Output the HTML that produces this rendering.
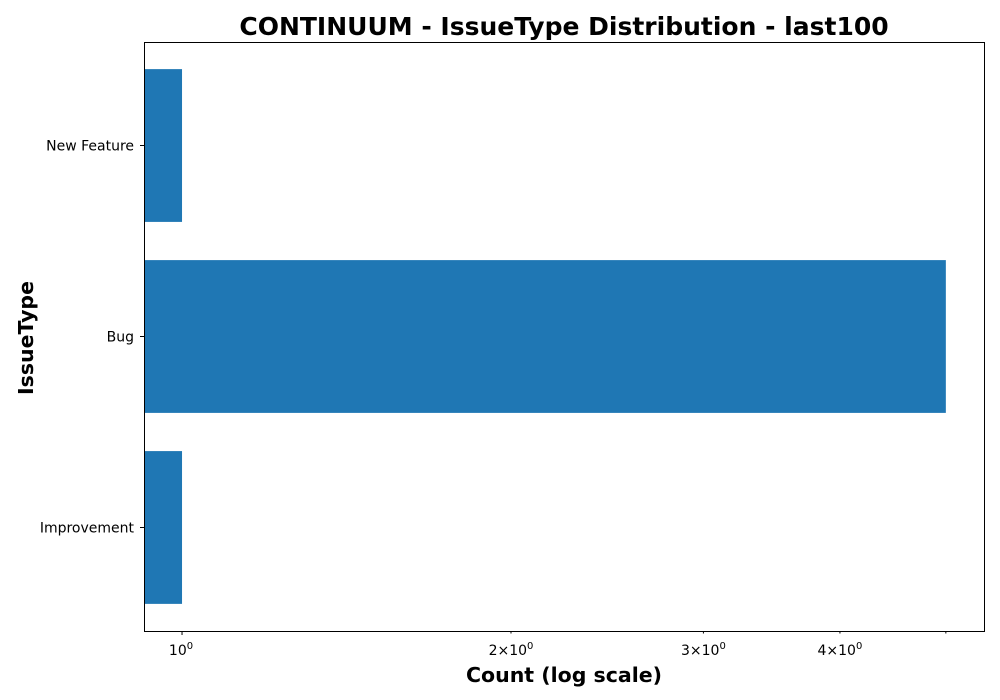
<!DOCTYPE html>
<html><head><meta charset="utf-8"><style>body{margin:0;background:#fff}svg{display:block;font-family:"DejaVu Sans","Liberation Sans",sans-serif}</style></head>
<body>
<svg id="chart" width="1000" height="700">
<rect x="0" y="0" width="1000" height="700" fill="#fff"/>
<text x="564" y="35" text-anchor="middle" font-size="25" font-weight="bold">CONTINUUM - IssueType Distribution - last100</text>
<text x="564" y="682" text-anchor="middle" font-size="20.5" font-weight="bold">Count (log scale)</text>
<text transform="translate(33,338) rotate(-90)" text-anchor="middle" font-size="20.5" font-weight="bold">IssueType</text>
<g id="plot"></g>
<rect x="144.5" y="42.5" width="840" height="589" fill="none" stroke="#000" stroke-width="1"/>
</svg>
<script>
const categories = ["New Feature", "Bug", "Improvement"];
const counts = [1, 5, 1];
const majorTicks = [1];
const minorTicks = [2, 3, 4, 5, 6, 7, 8, 9];
const minorLabels = ["2", "3", "4"];
const L=144, R=985, T=42, B=631, xmin=0.923, xmax=5.43;
const ns="http://www.w3.org/2000/svg";
const g=document.getElementById('plot');
function x(v){return L+(Math.log10(v)-Math.log10(xmin))/(Math.log10(xmax)-Math.log10(xmin))*(R-L);}
const n=categories.length, pad=0.542;
function y(i){return T+(i+pad)/(n-1+2*pad)*(B-T);}
const unit=(B-T)/(n-1+2*pad);
function mk(t,a){const e=document.createElementNS(ns,t);for(const k in a)e.setAttribute(k,a[k]);g.appendChild(e);return e;}
categories.forEach((c,i)=>{
  const h=unit*0.8;
  const r=mk('rect',{x:L,y:y(i)-h/2,width:x(counts[i])-L,height:h,fill:'#1f77b4'});
  
  
  mk('line',{x1:L-4,x2:L,y1:y(i),y2:y(i),stroke:'#000'});
  const t=mk('text',{x:L-10,y:y(i)+5,'text-anchor':'end','font-size':14});
  t.textContent=c;
  
  
});
majorTicks.forEach(v=>{
  const px=x(v);
  mk('line',{x1:px,x2:px,y1:B,y2:B+4,stroke:'#000'});
  const t=mk('text',{x:px-1,y:B+24,'text-anchor':'middle','font-size':14});
  t.innerHTML='10<tspan dy="-6" font-size="10">0</tspan>';
  
  
});
minorTicks.forEach((v,i)=>{
  if(v>xmax)return;
  const px=x(v);
  mk('line',{x1:px,x2:px,y1:B,y2:B+2.5,stroke:'#000'});
  if(minorLabels[i]){
    const t=mk('text',{x:px,y:B+24,'text-anchor':'middle','font-size':14});
    t.innerHTML=minorLabels[i]+'\u00d710<tspan dy="-6" font-size="10">0</tspan>';
    
    
  }
});
</script>
</body></html>
